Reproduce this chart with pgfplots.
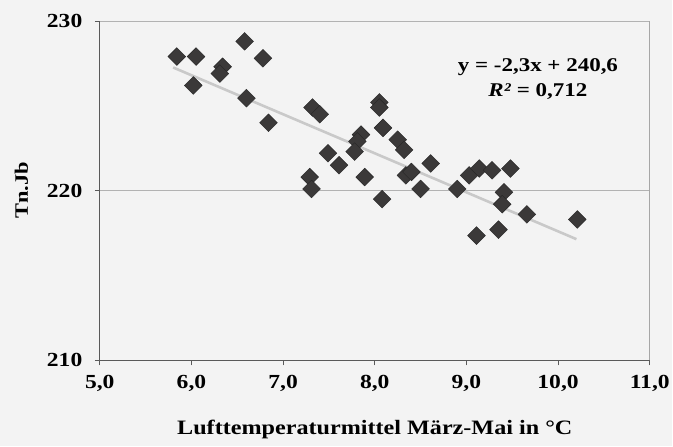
\documentclass[border=0pt]{standalone}
\usepackage{pgfplots}
\pgfplotsset{compat=1.18}
\usepackage{fontspec}
\setmainfont[FakeStretch=1.18]{Liberation Serif}
\definecolor{bg}{HTML}{F3F3F3}
\definecolor{mk}{HTML}{3B3939}
\definecolor{tl}{HTML}{C9C9C9}
\begin{document}
\begin{tikzpicture}[x=1pt,y=1pt]
\fill[bg] (-100,-86) rectangle (573,361);
\begin{axis}[
  at={(0,0)}, anchor=south west,
  scale only axis, width=551pt, height=340pt,
  xmin=5, xmax=11, ymin=210, ymax=230,
  xtick={5,6,...,11}, ytick={210,220,230},
  axis x line=bottom, axis y line=left,
  axis line style={draw=black!65, line width=0.9pt, -},
  tick align=outside, major tick length=5pt,
  tick style={draw=black!65, line width=0.8pt},
  ymajorgrids, grid style={draw=black!30, line width=0.7pt},
  /pgf/number format/assume math mode=true,
  x tick label style={/pgf/number format/fixed, /pgf/number format/fixed zerofill, /pgf/number format/precision=1, /pgf/number format/use comma},
  y tick label style={/pgf/number format/fixed},
  xticklabel style={font=\bfseries\fontsize{20}{24}\selectfont, yshift=-6pt},
  yticklabel style={font=\bfseries\fontsize{20}{24}\selectfont, xshift=-9pt},
  xlabel={Lufttemperaturmittel März-Mai in °C},
  xlabel style={font=\bfseries\fontsize{20.5}{24}\selectfont, yshift=-22pt},
  ylabel={Tn.Jb},
  ylabel style={font=\bfseries\fontsize{19}{22}\selectfont, yshift=12pt},
  clip=false,
]
\draw[black!35, line width=0.8pt] (rel axis cs:1,0) -- (rel axis cs:1,1);
\addplot[tl, line width=2.6pt] coordinates {(5.8,227.26) (10.2,217.14)};
\addplot[only marks, mark=square*, mark size=6.3pt,
  mark options={rotate=45, fill=mk, draw=black!85, line width=0.4pt}] coordinates {
(5.84,227.9) (6.05,227.9) (6.58,228.8) (6.78,227.8) (6.34,227.3) (6.31,226.9)
(6.02,226.2) (6.60,225.45) (6.84,224.0) (7.32,224.9) (7.40,224.5)
(8.05,225.2) (8.05,224.9) (8.09,223.7) (7.85,223.3) (7.81,222.9) (7.78,222.3)
(7.49,222.2) (7.61,221.5) (7.89,220.8) (7.29,220.8) (7.31,220.1) (8.08,219.5)
(8.25,223.0) (8.32,222.4) (8.34,220.9) (8.40,221.1) (8.50,220.1) (8.61,221.6)
(8.90,220.1) (9.03,220.9) (9.14,221.3) (9.28,221.2) (9.48,221.3) (9.41,219.9)
(9.39,219.2) (9.66,218.6) (10.21,218.3) (9.11,217.35) (9.35,217.7)
};
\node[font=\bfseries\fontsize{19.5}{22}\selectfont, align=center] at (axis cs:9.78,226.56)
  {y = -2,3x + 240,6\\[3pt]\textit{R²} = 0,712};
\end{axis}
\end{tikzpicture}
\end{document}
